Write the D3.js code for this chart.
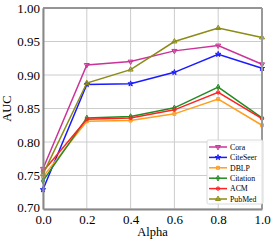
<!DOCTYPE html>
<html>
<head>
<meta charset="utf-8">
<script src="https://cdn.jsdelivr.net/npm/d3@7"></script>
<style>
  body { margin: 0; background: #fff; }
  svg { display: block; }
</style>
</head>
<body>
<svg id="chart"></svg>
<script>
const alphas = [0.0, 0.2, 0.4, 0.6, 0.8, 1.0];
const cora = [0.760, 0.915, 0.920, 0.936, 0.944, 0.916];
const citeseer = [0.729, 0.886, 0.887, 0.904, 0.931, 0.910];
const dblp = [0.748, 0.831, 0.832, 0.842, 0.864, 0.825];
const citation = [0.742, 0.836, 0.838, 0.851, 0.882, 0.836];
const acm = [0.756, 0.834, 0.836, 0.848, 0.874, 0.835];
const pubmed = [0.752, 0.888, 0.908, 0.950, 0.970, 0.956];
const xTicks = [0.0, 0.2, 0.4, 0.6, 0.8, 1.0];
const yTicks = [0.70, 0.75, 0.80, 0.85, 0.90, 0.95, 1.00];

const series = [
  { name: 'Cora', values: cora, color: '#cc3399', symbol: 'tridown' },
  { name: 'CiteSeer', values: citeseer, color: '#1a1aff', symbol: 'star' },
  { name: 'DBLP', values: dblp, color: '#ff9e1f', symbol: 'square' },
  { name: 'Citation', values: citation, color: '#228b22', symbol: 'diamond' },
  { name: 'ACM', values: acm, color: '#ff2222', symbol: 'circle' },
  { name: 'PubMed', values: pubmed, color: '#8b8b16', symbol: 'triangle' }
];

const width = 274, height = 242;
const margin = { top: 8, right: 12, bottom: 33, left: 43 };

const svg = d3.select('#chart')
  .attr('width', width)
  .attr('height', height)
  .attr('font-family', '"Liberation Serif", "DejaVu Serif", serif');

const x = d3.scaleLinear([0, 1], [margin.left, width - margin.right]);
const y = d3.scaleLinear([0.70, 1.00], [height - margin.bottom, margin.top]);

// grid
svg.append('g')
  .selectAll('line.vx')
  .data(xTicks)
  .join('line')
  .attr('x1', d => x(d)).attr('x2', d => x(d))
  .attr('y1', y(1)).attr('y2', y(0.7))
  .attr('stroke', '#cccccc').attr('stroke-width', 1);
svg.append('g')
  .selectAll('line.hy')
  .data(yTicks)
  .join('line')
  .attr('y1', d => y(d)).attr('y2', d => y(d))
  .attr('x1', x(0)).attr('x2', x(1))
  .attr('stroke', '#cccccc').attr('stroke-width', 1);

function marker(sym) {
  switch (sym) {
    case 'tridown': return d3.symbol(d3.symbolTriangle, 11)();
    case 'star': return d3.symbol(d3.symbolStar, 9)();
    case 'square': return d3.symbol(d3.symbolSquare, 9)();
    case 'diamond': return d3.symbol(d3.symbolDiamond, 9)();
    case 'circle': return d3.symbol(d3.symbolCircle, 9)();
    default: return d3.symbol(d3.symbolTriangle, 11)();
  }
}

const line = d3.line()
  .x((d, i) => x(alphas[i]))
  .y(d => y(d));

const plot = svg.append('g');
for (const s of series) {
  plot.append('path')
    .attr('d', line(s.values))
    .attr('fill', 'none')
    .attr('stroke', s.color)
    .attr('stroke-width', 1.5);
  plot.append('g')
    .selectAll('path')
    .data(s.values)
    .join('path')
    .attr('d', marker(s.symbol))
    .attr('transform', (d, i) => `translate(${x(alphas[i])},${y(d)})${s.symbol === 'tridown' ? ' rotate(180)' : ''}`)
    .attr('fill', s.color)
    .attr('fill-opacity', 0.35)
    .attr('stroke', s.color)
    .attr('stroke-width', 1);
}

// spines
svg.append('line')
  .attr('x1', x(0)).attr('x2', x(1)).attr('y1', y(1)).attr('y2', y(1))
  .attr('stroke', '#444').attr('stroke-width', 1);
svg.append('line')
  .attr('x1', x(1)).attr('x2', x(1)).attr('y1', y(1)).attr('y2', y(0.7))
  .attr('stroke', '#999').attr('stroke-width', 2);

// axes
const xAxis = svg.append('g')
  .attr('transform', `translate(0,${y(0.7)})`)
  .call(d3.axisBottom(x).tickValues(xTicks).tickFormat(d3.format('.1f')).tickSize(0).tickPadding(6));
xAxis.select('.domain').attr('stroke', '#888').attr('stroke-width', 2);
xAxis.selectAll('.tick text').attr('font-size', 13).attr('fill', '#000')
  .attr('font-family', '"Liberation Serif", serif');

const yAxis = svg.append('g')
  .attr('transform', `translate(${x(0)},0)`)
  .call(d3.axisLeft(y).tickValues(yTicks).tickFormat(d3.format('.2f')).tickSize(0).tickPadding(3));
yAxis.select('.domain').attr('stroke', '#888').attr('stroke-width', 2);
yAxis.selectAll('.tick text').attr('font-size', 13).attr('fill', '#000')
  .attr('font-family', '"Liberation Serif", serif');
// lift the bottom label a touch so it clears the 0.0 x label
yAxis.selectAll('.tick').filter(d => d === 0.70).select('text').attr('dy', '0.2em');

svg.append('text')
  .attr('x', x(0.5)).attr('y', 236)
  .attr('text-anchor', 'middle')
  .attr('font-size', 12.5)
  .text('Alpha');

svg.append('text')
  .attr('transform', `translate(11,${y(0.85)}) rotate(-90)`)
  .attr('text-anchor', 'middle')
  .attr('font-size', 12.5)
  .text('AUC');

// legend
const lg = svg.append('g').attr('transform', 'translate(207,140)');
lg.append('rect')
  .attr('width', 56).attr('height', 64).attr('rx', 1.5)
  .attr('fill', '#fff').attr('fill-opacity', 0.85)
  .attr('stroke', '#d0d0d0').attr('stroke-width', 0.8);
series.forEach((s, i) => {
  const g = lg.append('g').attr('transform', `translate(0,${7 + i * 10.4})`);
  g.append('line')
    .attr('x1', 2).attr('x2', 20)
    .attr('stroke', s.color).attr('stroke-width', 1.5);
  g.append('path')
    .attr('d', marker(s.symbol))
    .attr('transform', `translate(11,0)${s.symbol === 'tridown' ? ' rotate(180)' : ''}`)
    .attr('fill', s.color).attr('fill-opacity', 0.35)
    .attr('stroke', s.color).attr('stroke-width', 1);
  g.append('text')
    .attr('x', 23).attr('y', 0).attr('dy', '0.35em')
    .attr('font-size', 7.8)
    .text(s.name);
});
</script>
</body>
</html>
